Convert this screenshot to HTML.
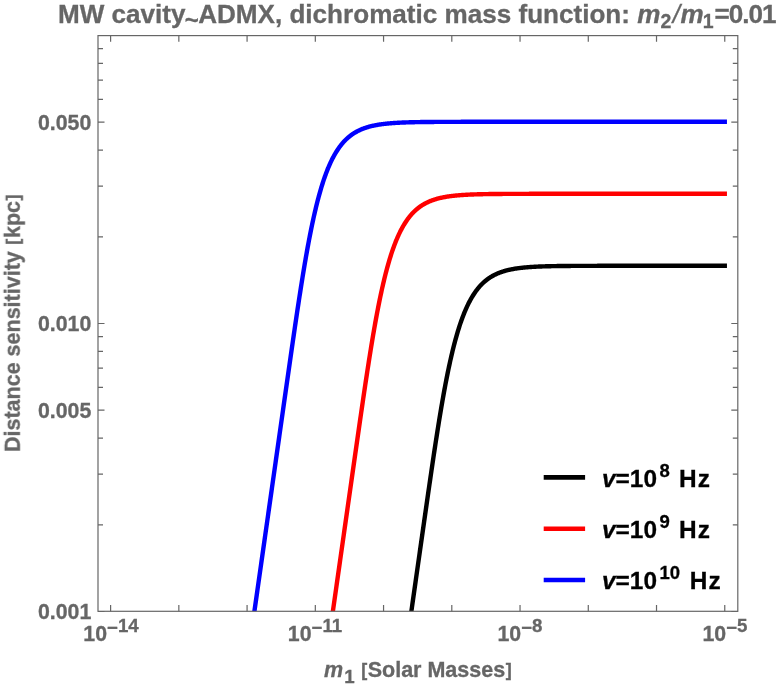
<!DOCTYPE html>
<html><head><meta charset="utf-8"><title>Distance sensitivity plot</title>
<style>
html,body{margin:0;padding:0;background:#fff;}
#c{position:relative;width:780px;height:687px;overflow:hidden;background:#fff;}
svg{position:absolute;left:0;top:0;display:block;}
.t{position:absolute;will-change:transform;-webkit-text-stroke:0.3px #666666;white-space:nowrap;line-height:1;font-family:"Liberation Sans",sans-serif;font-weight:bold;color:#666666;}
.t span{position:relative;line-height:1;}
.i{font-style:italic;}
.t span.br{font-size:18px;top:-0.7px;margin:0 0.6px;}
.lg{color:#000;-webkit-text-stroke:0.3px #000;}
</style></head><body>
<div id="c">
<svg width="780" height="687" viewBox="0 0 780 687">
<defs><clipPath id="cp"><rect x="98.0" y="35.6" width="639.8" height="575.6999999999999"/></clipPath></defs>

<g clip-path="url(#cp)" fill="none" stroke-width="4.4" stroke-linecap="square" stroke-linejoin="round">
<path d="M407.48,638.60 L407.98,635.08 L408.48,631.56 L408.98,628.05 L409.48,624.53 L409.98,621.01 L410.48,617.50 L410.98,613.98 L411.48,610.46 L411.98,606.95 L412.48,603.43 L412.98,599.91 L413.48,596.39 L413.98,592.88 L414.48,589.36 L414.98,585.84 L415.48,582.33 L415.98,578.81 L416.48,575.29 L416.98,571.78 L417.48,568.26 L417.98,564.74 L418.48,561.23 L418.98,557.71 L419.48,554.20 L419.98,550.68 L420.48,547.17 L420.98,543.65 L421.48,540.14 L421.98,536.63 L422.48,533.11 L422.98,529.60 L423.48,526.10 L423.98,522.59 L424.48,519.08 L424.98,515.58 L425.48,512.08 L425.98,508.59 L426.48,505.10 L426.98,501.61 L427.48,498.13 L427.98,494.65 L428.48,491.18 L428.98,487.72 L429.48,484.26 L429.98,480.82 L430.48,477.38 L430.98,473.95 L431.48,470.54 L431.98,467.14 L432.48,463.75 L432.98,460.38 L433.48,457.02 L433.98,453.68 L434.48,450.36 L434.98,447.06 L435.48,443.78 L435.98,440.52 L436.48,437.29 L436.98,434.07 L437.48,430.89 L437.98,427.73 L438.48,424.60 L438.98,421.49 L439.48,418.42 L439.98,415.38 L440.48,412.36 L440.98,409.39 L441.48,406.44 L441.98,403.53 L442.48,400.66 L442.98,397.82 L443.48,395.01 L443.98,392.25 L444.48,389.52 L444.98,386.83 L445.48,384.18 L445.98,381.57 L446.48,379.00 L446.98,376.47 L447.48,373.98 L447.98,371.53 L448.48,369.12 L448.98,366.75 L449.48,364.42 L449.98,362.13 L450.48,359.89 L450.98,357.68 L451.48,355.51 L451.98,353.39 L452.48,351.30 L452.98,349.26 L453.48,347.25 L453.98,345.29 L454.48,343.36 L454.98,341.47 L455.48,339.63 L455.98,337.82 L456.48,336.04 L456.98,334.31 L457.48,332.61 L457.98,330.95 L458.48,329.32 L458.98,327.73 L459.48,326.17 L459.98,324.65 L460.48,323.17 L460.98,321.71 L461.48,320.29 L461.98,318.90 L462.48,317.55 L462.98,316.22 L463.48,314.93 L463.98,313.67 L464.48,312.43 L464.98,311.23 L465.48,310.05 L465.98,308.90 L466.48,307.78 L466.98,306.69 L467.48,305.62 L467.98,304.58 L468.48,303.56 L468.98,302.57 L469.48,301.61 L469.98,300.67 L470.48,299.75 L470.98,298.85 L471.48,297.98 L471.98,297.13 L472.48,296.29 L472.98,295.49 L473.48,294.70 L473.98,293.93 L474.48,293.18 L474.98,292.45 L475.48,291.74 L475.98,291.04 L476.48,290.37 L476.98,289.71 L477.48,289.07 L477.98,288.44 L478.48,287.84 L478.98,287.24 L479.48,286.67 L479.98,286.10 L480.48,285.56 L480.98,285.02 L481.48,284.50 L481.98,284.00 L482.48,283.51 L482.98,283.03 L483.48,282.56 L483.98,282.11 L484.48,281.66 L484.98,281.23 L485.48,280.81 L485.98,280.41 L486.48,280.01 L486.98,279.62 L487.48,279.25 L487.98,278.88 L488.48,278.52 L488.98,278.18 L489.48,277.84 L489.98,277.51 L490.48,277.19 L490.98,276.88 L491.48,276.58 L491.98,276.28 L492.48,276.00 L492.98,275.72 L493.48,275.45 L493.98,275.18 L494.48,274.92 L494.98,274.67 L495.48,274.43 L495.98,274.19 L496.48,273.96 L496.98,273.74 L497.48,273.52 L497.98,273.31 L498.48,273.10 L498.98,272.90 L499.48,272.71 L499.98,272.52 L500.48,272.33 L500.98,272.15 L501.48,271.98 L501.98,271.81 L502.48,271.64 L502.98,271.48 L503.48,271.33 L503.98,271.17 L504.48,271.03 L504.98,270.88 L505.48,270.74 L505.98,270.61 L506.48,270.47 L506.98,270.34 L507.48,270.22 L507.98,270.10 L508.48,269.98 L508.98,269.86 L509.48,269.75 L509.98,269.64 L510.48,269.54 L510.98,269.43 L511.48,269.33 L511.98,269.23 L512.48,269.14 L512.98,269.05 L513.48,268.96 L513.98,268.87 L514.48,268.79 L514.98,268.70 L515.48,268.62 L515.98,268.54 L516.48,268.47 L516.98,268.40 L517.48,268.32 L517.98,268.25 L518.48,268.19 L518.98,268.12 L519.48,268.06 L519.98,267.99 L520.48,267.93 L520.98,267.87 L521.48,267.82 L521.98,267.76 L522.48,267.71 L522.98,267.65 L523.48,267.60 L523.98,267.55 L524.48,267.50 L524.98,267.46 L525.48,267.41 L525.98,267.37 L526.48,267.32 L526.98,267.28 L527.48,267.24 L527.98,267.20 L528.48,267.16 L528.98,267.12 L529.48,267.09 L529.98,267.05 L530.48,267.02 L530.98,266.98 L531.48,266.95 L531.98,266.92 L532.48,266.89 L532.98,266.86 L533.48,266.83 L533.98,266.80 L534.48,266.77 L534.98,266.74 L535.48,266.72 L535.98,266.69 L536.48,266.67 L536.98,266.64 L537.48,266.62 L537.98,266.60 L538.48,266.57 L538.98,266.55 L539.48,266.53 L539.98,266.51 L540.48,266.49 L540.98,266.47 L541.48,266.45 L541.98,266.44 L542.48,266.42 L542.98,266.40 L543.48,266.38 L543.98,266.37 L544.48,266.35 L544.98,266.34 L545.48,266.32 L545.98,266.31 L546.48,266.29 L546.98,266.28 L547.48,266.27 L547.98,266.25 L548.48,266.24 L548.98,266.23 L549.48,266.22 L549.98,266.20 L550.48,266.19 L550.98,266.18 L551.48,266.17 L551.98,266.16 L552.48,266.15 L552.98,266.14 L553.48,266.13 L553.98,266.12 L554.48,266.11 L554.98,266.10 L555.48,266.10 L555.98,266.09 L556.48,266.08 L556.98,266.07 L557.48,266.06 L557.98,266.06 L558.48,266.05 L558.98,266.04 L559.48,266.04 L559.98,266.03 L560.48,266.02 L560.98,266.02 L561.48,266.01 L561.98,266.00 L562.48,266.00 L562.98,265.99 L563.48,265.99 L563.98,265.98 L564.48,265.98 L564.98,265.97 L565.48,265.97 L565.98,265.96 L566.48,265.96 L566.98,265.95 L567.48,265.95 L567.98,265.94 L568.48,265.94 L568.98,265.94 L569.48,265.93 L569.98,265.93 L570.48,265.93 L570.98,265.92 L571.48,265.92 L571.98,265.91 L572.48,265.91 L572.98,265.91 L573.48,265.91 L573.98,265.90 L574.48,265.90 L574.98,265.90 L575.48,265.89 L575.98,265.89 L576.48,265.89 L576.98,265.89 L577.48,265.88 L577.98,265.88 L578.48,265.88 L578.98,265.88 L579.48,265.87 L579.98,265.87 L580.48,265.87 L580.98,265.87 L581.48,265.87 L581.98,265.86 L582.48,265.86 L582.98,265.86 L583.48,265.86 L583.98,265.86 L584.48,265.86 L584.98,265.85 L585.48,265.85 L585.98,265.85 L586.48,265.85 L586.98,265.85 L587.48,265.85 L587.98,265.84 L588.48,265.84 L588.98,265.84 L589.48,265.84 L589.98,265.84 L590.48,265.84 L590.98,265.84 L591.48,265.84 L591.98,265.84 L592.48,265.83 L592.98,265.83 L593.48,265.83 L593.98,265.83 L594.48,265.83 L594.98,265.83 L595.48,265.83 L595.98,265.83 L596.48,265.83 L596.98,265.83 L597.48,265.82 L597.98,265.82 L598.48,265.82 L598.98,265.82 L599.48,265.82 L599.98,265.82 L600.48,265.82 L600.98,265.82 L601.48,265.82 L601.98,265.82 L602.48,265.82 L602.98,265.82 L603.48,265.82 L603.98,265.82 L604.48,265.82 L604.98,265.82 L605.48,265.81 L605.98,265.81 L606.48,265.81 L606.98,265.81 L607.48,265.81 L607.98,265.81 L608.48,265.81 L608.98,265.81 L609.48,265.81 L609.98,265.81 L610.48,265.81 L610.98,265.81 L611.48,265.81 L611.98,265.81 L612.48,265.81 L612.98,265.81 L613.48,265.81 L613.98,265.81 L614.48,265.81 L614.98,265.81 L615.48,265.81 L615.98,265.81 L616.48,265.81 L616.98,265.81 L617.48,265.81 L617.98,265.81 L618.48,265.81 L618.98,265.81 L619.48,265.80 L619.98,265.80 L620.48,265.80 L620.98,265.80 L621.48,265.80 L621.98,265.80 L622.48,265.80 L622.98,265.80 L623.48,265.80 L623.98,265.80 L624.48,265.80 L624.98,265.80 L625.48,265.80 L625.98,265.80 L626.48,265.80 L626.98,265.80 L627.48,265.80 L627.98,265.80 L628.48,265.80 L628.98,265.80 L629.48,265.80 L629.98,265.80 L630.48,265.80 L630.98,265.80 L631.48,265.80 L631.98,265.80 L632.48,265.80 L632.98,265.80 L633.48,265.80 L633.98,265.80 L634.48,265.80 L634.98,265.80 L635.48,265.80 L635.98,265.80 L636.48,265.80 L636.98,265.80 L637.48,265.80 L637.98,265.80 L638.48,265.80 L638.98,265.80 L639.48,265.80 L639.98,265.80 L640.48,265.80 L640.98,265.80 L641.48,265.80 L641.98,265.80 L642.48,265.80 L642.98,265.80 L643.48,265.80 L643.98,265.80 L644.48,265.80 L644.98,265.80 L645.48,265.80 L645.98,265.80 L646.48,265.80 L646.98,265.80 L647.48,265.80 L647.98,265.80 L648.48,265.80 L648.98,265.80 L649.48,265.80 L649.98,265.80 L650.48,265.80 L650.98,265.80 L651.48,265.80 L651.98,265.80 L652.48,265.80 L652.98,265.80 L653.48,265.80 L653.98,265.80 L654.48,265.80 L654.98,265.80 L655.48,265.80 L655.98,265.80 L656.48,265.80 L656.98,265.80 L657.48,265.80 L657.98,265.80 L658.48,265.80 L658.98,265.80 L659.48,265.80 L659.98,265.80 L660.48,265.80 L660.98,265.80 L661.48,265.80 L661.98,265.80 L662.48,265.80 L662.98,265.80 L663.48,265.80 L663.98,265.80 L664.48,265.80 L664.98,265.80 L665.48,265.80 L665.98,265.80 L666.48,265.80 L666.98,265.80 L667.48,265.80 L667.98,265.80 L668.48,265.80 L668.98,265.80 L669.48,265.80 L669.98,265.80 L670.48,265.80 L670.98,265.80 L671.48,265.80 L671.98,265.80 L672.48,265.80 L672.98,265.80 L673.48,265.80 L673.98,265.80 L674.48,265.80 L674.98,265.80 L675.48,265.80 L675.98,265.80 L676.48,265.80 L676.98,265.80 L677.48,265.80 L677.98,265.80 L678.48,265.80 L678.98,265.80 L679.48,265.80 L679.98,265.80 L680.48,265.80 L680.98,265.80 L681.48,265.80 L681.98,265.80 L682.48,265.80 L682.98,265.80 L683.48,265.80 L683.98,265.80 L684.48,265.80 L684.98,265.80 L685.48,265.80 L685.98,265.80 L686.48,265.80 L686.98,265.80 L687.48,265.80 L687.98,265.80 L688.48,265.80 L688.98,265.80 L689.48,265.80 L689.98,265.80 L690.48,265.80 L690.98,265.80 L691.48,265.80 L691.98,265.80 L692.48,265.80 L692.98,265.80 L693.48,265.80 L693.98,265.80 L694.48,265.80 L694.98,265.80 L695.48,265.80 L695.98,265.80 L696.48,265.80 L696.98,265.80 L697.48,265.80 L697.98,265.80 L698.48,265.80 L698.98,265.80 L699.48,265.80 L699.98,265.80 L700.48,265.80 L700.98,265.80 L701.48,265.80 L701.98,265.80 L702.48,265.80 L702.98,265.80 L703.48,265.80 L703.98,265.80 L704.48,265.80 L704.98,265.80 L705.48,265.80 L705.98,265.80 L706.48,265.80 L706.98,265.80 L707.48,265.80 L707.98,265.80 L708.48,265.80 L708.98,265.80 L709.48,265.80 L709.98,265.80 L710.48,265.80 L710.98,265.80 L711.48,265.80 L711.98,265.80 L712.48,265.80 L712.98,265.80 L713.48,265.80 L713.98,265.80 L714.48,265.80 L714.98,265.80 L715.48,265.80 L715.98,265.80 L716.48,265.80 L716.98,265.80 L717.48,265.80 L717.98,265.80 L718.48,265.80 L718.98,265.80 L719.48,265.80 L719.98,265.80 L720.48,265.80 L720.98,265.80 L721.48,265.80 L721.98,265.80 L722.48,265.80 L722.98,265.80 L723.48,265.80 L723.98,265.80 L724.48,265.80 L724.76,265.80" stroke="#000000"/>
<path d="M328.74,640.46 L329.24,636.94 L329.74,633.42 L330.24,629.90 L330.74,626.39 L331.24,622.87 L331.74,619.35 L332.24,615.84 L332.74,612.32 L333.24,608.80 L333.74,605.29 L334.24,601.77 L334.74,598.25 L335.24,594.73 L335.74,591.22 L336.24,587.70 L336.74,584.18 L337.24,580.67 L337.74,577.15 L338.24,573.63 L338.74,570.12 L339.24,566.60 L339.74,563.08 L340.24,559.56 L340.74,556.05 L341.24,552.53 L341.74,549.01 L342.24,545.50 L342.74,541.98 L343.24,538.46 L343.74,534.95 L344.24,531.43 L344.74,527.91 L345.24,524.39 L345.74,520.88 L346.24,517.36 L346.74,513.84 L347.24,510.33 L347.74,506.81 L348.24,503.29 L348.74,499.78 L349.24,496.26 L349.74,492.74 L350.24,489.23 L350.74,485.71 L351.24,482.20 L351.74,478.68 L352.24,475.17 L352.74,471.65 L353.24,468.14 L353.74,464.63 L354.24,461.11 L354.74,457.60 L355.24,454.10 L355.74,450.59 L356.24,447.08 L356.74,443.58 L357.24,440.08 L357.74,436.59 L358.24,433.10 L358.74,429.61 L359.24,426.13 L359.74,422.65 L360.24,419.18 L360.74,415.72 L361.24,412.26 L361.74,408.82 L362.24,405.38 L362.74,401.95 L363.24,398.54 L363.74,395.14 L364.24,391.75 L364.74,388.38 L365.24,385.02 L365.74,381.68 L366.24,378.36 L366.74,375.06 L367.24,371.78 L367.74,368.52 L368.24,365.29 L368.74,362.07 L369.24,358.89 L369.74,355.73 L370.24,352.60 L370.74,349.49 L371.24,346.42 L371.74,343.38 L372.24,340.36 L372.74,337.39 L373.24,334.44 L373.74,331.53 L374.24,328.66 L374.74,325.82 L375.24,323.01 L375.74,320.25 L376.24,317.52 L376.74,314.83 L377.24,312.18 L377.74,309.57 L378.24,307.00 L378.74,304.47 L379.24,301.98 L379.74,299.53 L380.24,297.12 L380.74,294.75 L381.24,292.42 L381.74,290.13 L382.24,287.89 L382.74,285.68 L383.24,283.51 L383.74,281.39 L384.24,279.30 L384.74,277.26 L385.24,275.25 L385.74,273.29 L386.24,271.36 L386.74,269.47 L387.24,267.63 L387.74,265.82 L388.24,264.04 L388.74,262.31 L389.24,260.61 L389.74,258.95 L390.24,257.32 L390.74,255.73 L391.24,254.17 L391.74,252.65 L392.24,251.17 L392.74,249.71 L393.24,248.29 L393.74,246.90 L394.24,245.55 L394.74,244.22 L395.24,242.93 L395.74,241.67 L396.24,240.43 L396.74,239.23 L397.24,238.05 L397.74,236.90 L398.24,235.78 L398.74,234.69 L399.24,233.62 L399.74,232.58 L400.24,231.56 L400.74,230.57 L401.24,229.61 L401.74,228.67 L402.24,227.75 L402.74,226.85 L403.24,225.98 L403.74,225.13 L404.24,224.29 L404.74,223.49 L405.24,222.70 L405.74,221.93 L406.24,221.18 L406.74,220.45 L407.24,219.74 L407.74,219.04 L408.24,218.37 L408.74,217.71 L409.24,217.07 L409.74,216.44 L410.24,215.84 L410.74,215.24 L411.24,214.67 L411.74,214.10 L412.24,213.56 L412.74,213.02 L413.24,212.50 L413.74,212.00 L414.24,211.51 L414.74,211.03 L415.24,210.56 L415.74,210.11 L416.24,209.66 L416.74,209.23 L417.24,208.81 L417.74,208.41 L418.24,208.01 L418.74,207.62 L419.24,207.25 L419.74,206.88 L420.24,206.52 L420.74,206.18 L421.24,205.84 L421.74,205.51 L422.24,205.19 L422.74,204.88 L423.24,204.58 L423.74,204.28 L424.24,204.00 L424.74,203.72 L425.24,203.45 L425.74,203.18 L426.24,202.92 L426.74,202.67 L427.24,202.43 L427.74,202.19 L428.24,201.96 L428.74,201.74 L429.24,201.52 L429.74,201.31 L430.24,201.10 L430.74,200.90 L431.24,200.71 L431.74,200.52 L432.24,200.33 L432.74,200.15 L433.24,199.98 L433.74,199.81 L434.24,199.64 L434.74,199.48 L435.24,199.33 L435.74,199.17 L436.24,199.03 L436.74,198.88 L437.24,198.74 L437.74,198.61 L438.24,198.47 L438.74,198.34 L439.24,198.22 L439.74,198.10 L440.24,197.98 L440.74,197.86 L441.24,197.75 L441.74,197.64 L442.24,197.54 L442.74,197.43 L443.24,197.33 L443.74,197.23 L444.24,197.14 L444.74,197.05 L445.24,196.96 L445.74,196.87 L446.24,196.79 L446.74,196.70 L447.24,196.62 L447.74,196.54 L448.24,196.47 L448.74,196.40 L449.24,196.32 L449.74,196.25 L450.24,196.19 L450.74,196.12 L451.24,196.06 L451.74,195.99 L452.24,195.93 L452.74,195.87 L453.24,195.82 L453.74,195.76 L454.24,195.71 L454.74,195.65 L455.24,195.60 L455.74,195.55 L456.24,195.50 L456.74,195.46 L457.24,195.41 L457.74,195.37 L458.24,195.32 L458.74,195.28 L459.24,195.24 L459.74,195.20 L460.24,195.16 L460.74,195.12 L461.24,195.09 L461.74,195.05 L462.24,195.02 L462.74,194.98 L463.24,194.95 L463.74,194.92 L464.24,194.89 L464.74,194.86 L465.24,194.83 L465.74,194.80 L466.24,194.77 L466.74,194.74 L467.24,194.72 L467.74,194.69 L468.24,194.67 L468.74,194.64 L469.24,194.62 L469.74,194.60 L470.24,194.57 L470.74,194.55 L471.24,194.53 L471.74,194.51 L472.24,194.49 L472.74,194.47 L473.24,194.45 L473.74,194.44 L474.24,194.42 L474.74,194.40 L475.24,194.38 L475.74,194.37 L476.24,194.35 L476.74,194.34 L477.24,194.32 L477.74,194.31 L478.24,194.29 L478.74,194.28 L479.24,194.27 L479.74,194.25 L480.24,194.24 L480.74,194.23 L481.24,194.22 L481.74,194.20 L482.24,194.19 L482.74,194.18 L483.24,194.17 L483.74,194.16 L484.24,194.15 L484.74,194.14 L485.24,194.13 L485.74,194.12 L486.24,194.11 L486.74,194.10 L487.24,194.10 L487.74,194.09 L488.24,194.08 L488.74,194.07 L489.24,194.06 L489.74,194.06 L490.24,194.05 L490.74,194.04 L491.24,194.04 L491.74,194.03 L492.24,194.02 L492.74,194.02 L493.24,194.01 L493.74,194.00 L494.24,194.00 L494.74,193.99 L495.24,193.99 L495.74,193.98 L496.24,193.98 L496.74,193.97 L497.24,193.97 L497.74,193.96 L498.24,193.96 L498.74,193.95 L499.24,193.95 L499.74,193.94 L500.24,193.94 L500.74,193.94 L501.24,193.93 L501.74,193.93 L502.24,193.93 L502.74,193.92 L503.24,193.92 L503.74,193.91 L504.24,193.91 L504.74,193.91 L505.24,193.91 L505.74,193.90 L506.24,193.90 L506.74,193.90 L507.24,193.89 L507.74,193.89 L508.24,193.89 L508.74,193.89 L509.24,193.88 L509.74,193.88 L510.24,193.88 L510.74,193.88 L511.24,193.87 L511.74,193.87 L512.24,193.87 L512.74,193.87 L513.24,193.87 L513.74,193.86 L514.24,193.86 L514.74,193.86 L515.24,193.86 L515.74,193.86 L516.24,193.86 L516.74,193.85 L517.24,193.85 L517.74,193.85 L518.24,193.85 L518.74,193.85 L519.24,193.85 L519.74,193.84 L520.24,193.84 L520.74,193.84 L521.24,193.84 L521.74,193.84 L522.24,193.84 L522.74,193.84 L523.24,193.84 L523.74,193.84 L524.24,193.83 L524.74,193.83 L525.24,193.83 L525.74,193.83 L526.24,193.83 L526.74,193.83 L527.24,193.83 L527.74,193.83 L528.24,193.83 L528.74,193.83 L529.24,193.82 L529.74,193.82 L530.24,193.82 L530.74,193.82 L531.24,193.82 L531.74,193.82 L532.24,193.82 L532.74,193.82 L533.24,193.82 L533.74,193.82 L534.24,193.82 L534.74,193.82 L535.24,193.82 L535.74,193.82 L536.24,193.82 L536.74,193.82 L537.24,193.81 L537.74,193.81 L538.24,193.81 L538.74,193.81 L539.24,193.81 L539.74,193.81 L540.24,193.81 L540.74,193.81 L541.24,193.81 L541.74,193.81 L542.24,193.81 L542.74,193.81 L543.24,193.81 L543.74,193.81 L544.24,193.81 L544.74,193.81 L545.24,193.81 L545.74,193.81 L546.24,193.81 L546.74,193.81 L547.24,193.81 L547.74,193.81 L548.24,193.81 L548.74,193.81 L549.24,193.81 L549.74,193.81 L550.24,193.81 L550.74,193.81 L551.24,193.80 L551.74,193.80 L552.24,193.80 L552.74,193.80 L553.24,193.80 L553.74,193.80 L554.24,193.80 L554.74,193.80 L555.24,193.80 L555.74,193.80 L556.24,193.80 L556.74,193.80 L557.24,193.80 L557.74,193.80 L558.24,193.80 L558.74,193.80 L559.24,193.80 L559.74,193.80 L560.24,193.80 L560.74,193.80 L561.24,193.80 L561.74,193.80 L562.24,193.80 L562.74,193.80 L563.24,193.80 L563.74,193.80 L564.24,193.80 L564.74,193.80 L565.24,193.80 L565.74,193.80 L566.24,193.80 L566.74,193.80 L567.24,193.80 L567.74,193.80 L568.24,193.80 L568.74,193.80 L569.24,193.80 L569.74,193.80 L570.24,193.80 L570.74,193.80 L571.24,193.80 L571.74,193.80 L572.24,193.80 L572.74,193.80 L573.24,193.80 L573.74,193.80 L574.24,193.80 L574.74,193.80 L575.24,193.80 L575.74,193.80 L576.24,193.80 L576.74,193.80 L577.24,193.80 L577.74,193.80 L578.24,193.80 L578.74,193.80 L579.24,193.80 L579.74,193.80 L580.24,193.80 L580.74,193.80 L581.24,193.80 L581.74,193.80 L582.24,193.80 L582.74,193.80 L583.24,193.80 L583.74,193.80 L584.24,193.80 L584.74,193.80 L585.24,193.80 L585.74,193.80 L586.24,193.80 L586.74,193.80 L587.24,193.80 L587.74,193.80 L588.24,193.80 L588.74,193.80 L589.24,193.80 L589.74,193.80 L590.24,193.80 L590.74,193.80 L591.24,193.80 L591.74,193.80 L592.24,193.80 L592.74,193.80 L593.24,193.80 L593.74,193.80 L594.24,193.80 L594.74,193.80 L595.24,193.80 L595.74,193.80 L596.24,193.80 L596.74,193.80 L597.24,193.80 L597.74,193.80 L598.24,193.80 L598.74,193.80 L599.24,193.80 L599.74,193.80 L600.24,193.80 L600.74,193.80 L601.24,193.80 L601.74,193.80 L602.24,193.80 L602.74,193.80 L603.24,193.80 L603.74,193.80 L604.24,193.80 L604.74,193.80 L605.24,193.80 L605.74,193.80 L606.24,193.80 L606.74,193.80 L607.24,193.80 L607.74,193.80 L608.24,193.80 L608.74,193.80 L609.24,193.80 L609.74,193.80 L610.24,193.80 L610.74,193.80 L611.24,193.80 L611.74,193.80 L612.24,193.80 L612.74,193.80 L613.24,193.80 L613.74,193.80 L614.24,193.80 L614.74,193.80 L615.24,193.80 L615.74,193.80 L616.24,193.80 L616.74,193.80 L617.24,193.80 L617.74,193.80 L618.24,193.80 L618.74,193.80 L619.24,193.80 L619.74,193.80 L620.24,193.80 L620.74,193.80 L621.24,193.80 L621.74,193.80 L622.24,193.80 L622.74,193.80 L623.24,193.80 L623.74,193.80 L624.24,193.80 L624.74,193.80 L625.24,193.80 L625.74,193.80 L626.24,193.80 L626.74,193.80 L627.24,193.80 L627.74,193.80 L628.24,193.80 L628.74,193.80 L629.24,193.80 L629.74,193.80 L630.24,193.80 L630.74,193.80 L631.24,193.80 L631.74,193.80 L632.24,193.80 L632.74,193.80 L633.24,193.80 L633.74,193.80 L634.24,193.80 L634.74,193.80 L635.24,193.80 L635.74,193.80 L636.24,193.80 L636.74,193.80 L637.24,193.80 L637.74,193.80 L638.24,193.80 L638.74,193.80 L639.24,193.80 L639.74,193.80 L640.24,193.80 L640.74,193.80 L641.24,193.80 L641.74,193.80 L642.24,193.80 L642.74,193.80 L643.24,193.80 L643.74,193.80 L644.24,193.80 L644.74,193.80 L645.24,193.80 L645.74,193.80 L646.24,193.80 L646.74,193.80 L647.24,193.80 L647.74,193.80 L648.24,193.80 L648.74,193.80 L649.24,193.80 L649.74,193.80 L650.24,193.80 L650.74,193.80 L651.24,193.80 L651.74,193.80 L652.24,193.80 L652.74,193.80 L653.24,193.80 L653.74,193.80 L654.24,193.80 L654.74,193.80 L655.24,193.80 L655.74,193.80 L656.24,193.80 L656.74,193.80 L657.24,193.80 L657.74,193.80 L658.24,193.80 L658.74,193.80 L659.24,193.80 L659.74,193.80 L660.24,193.80 L660.74,193.80 L661.24,193.80 L661.74,193.80 L662.24,193.80 L662.74,193.80 L663.24,193.80 L663.74,193.80 L664.24,193.80 L664.74,193.80 L665.24,193.80 L665.74,193.80 L666.24,193.80 L666.74,193.80 L667.24,193.80 L667.74,193.80 L668.24,193.80 L668.74,193.80 L669.24,193.80 L669.74,193.80 L670.24,193.80 L670.74,193.80 L671.24,193.80 L671.74,193.80 L672.24,193.80 L672.74,193.80 L673.24,193.80 L673.74,193.80 L674.24,193.80 L674.74,193.80 L675.24,193.80 L675.74,193.80 L676.24,193.80 L676.74,193.80 L677.24,193.80 L677.74,193.80 L678.24,193.80 L678.74,193.80 L679.24,193.80 L679.74,193.80 L680.24,193.80 L680.74,193.80 L681.24,193.80 L681.74,193.80 L682.24,193.80 L682.74,193.80 L683.24,193.80 L683.74,193.80 L684.24,193.80 L684.74,193.80 L685.24,193.80 L685.74,193.80 L686.24,193.80 L686.74,193.80 L687.24,193.80 L687.74,193.80 L688.24,193.80 L688.74,193.80 L689.24,193.80 L689.74,193.80 L690.24,193.80 L690.74,193.80 L691.24,193.80 L691.74,193.80 L692.24,193.80 L692.74,193.80 L693.24,193.80 L693.74,193.80 L694.24,193.80 L694.74,193.80 L695.24,193.80 L695.74,193.80 L696.24,193.80 L696.74,193.80 L697.24,193.80 L697.74,193.80 L698.24,193.80 L698.74,193.80 L699.24,193.80 L699.74,193.80 L700.24,193.80 L700.74,193.80 L701.24,193.80 L701.74,193.80 L702.24,193.80 L702.74,193.80 L703.24,193.80 L703.74,193.80 L704.24,193.80 L704.74,193.80 L705.24,193.80 L705.74,193.80 L706.24,193.80 L706.74,193.80 L707.24,193.80 L707.74,193.80 L708.24,193.80 L708.74,193.80 L709.24,193.80 L709.74,193.80 L710.24,193.80 L710.74,193.80 L711.24,193.80 L711.74,193.80 L712.24,193.80 L712.74,193.80 L713.24,193.80 L713.74,193.80 L714.24,193.80 L714.74,193.80 L715.24,193.80 L715.74,193.80 L716.24,193.80 L716.74,193.80 L717.24,193.80 L717.74,193.80 L718.24,193.80 L718.74,193.80 L719.24,193.80 L719.74,193.80 L720.24,193.80 L720.74,193.80 L721.24,193.80 L721.74,193.80 L722.24,193.80 L722.74,193.80 L723.24,193.80 L723.74,193.80 L724.24,193.80 L724.74,193.80 L724.76,193.80" stroke="#ff0000"/>
<path d="M250.50,638.80 L251.00,635.28 L251.50,631.76 L252.00,628.24 L252.50,624.73 L253.00,621.21 L253.50,617.69 L254.00,614.18 L254.50,610.66 L255.00,607.14 L255.50,603.63 L256.00,600.11 L256.50,596.59 L257.00,593.07 L257.50,589.56 L258.00,586.04 L258.50,582.52 L259.00,579.01 L259.50,575.49 L260.00,571.97 L260.50,568.46 L261.00,564.94 L261.50,561.42 L262.00,557.90 L262.50,554.39 L263.00,550.87 L263.50,547.35 L264.00,543.84 L264.50,540.32 L265.00,536.80 L265.50,533.29 L266.00,529.77 L266.50,526.25 L267.00,522.73 L267.50,519.22 L268.00,515.70 L268.50,512.18 L269.00,508.67 L269.50,505.15 L270.00,501.63 L270.50,498.12 L271.00,494.60 L271.50,491.08 L272.00,487.56 L272.50,484.05 L273.00,480.53 L273.50,477.01 L274.00,473.50 L274.50,469.98 L275.00,466.46 L275.50,462.95 L276.00,459.43 L276.50,455.91 L277.00,452.39 L277.50,448.88 L278.00,445.36 L278.50,441.84 L279.00,438.33 L279.50,434.81 L280.00,431.29 L280.50,427.78 L281.00,424.26 L281.50,420.74 L282.00,417.23 L282.50,413.71 L283.00,410.20 L283.50,406.68 L284.00,403.17 L284.50,399.65 L285.00,396.14 L285.50,392.63 L286.00,389.11 L286.50,385.60 L287.00,382.10 L287.50,378.59 L288.00,375.08 L288.50,371.58 L289.00,368.08 L289.50,364.59 L290.00,361.10 L290.50,357.61 L291.00,354.13 L291.50,350.65 L292.00,347.18 L292.50,343.72 L293.00,340.26 L293.50,336.82 L294.00,333.38 L294.50,329.95 L295.00,326.54 L295.50,323.14 L296.00,319.75 L296.50,316.38 L297.00,313.02 L297.50,309.68 L298.00,306.36 L298.50,303.06 L299.00,299.78 L299.50,296.52 L300.00,293.29 L300.50,290.07 L301.00,286.89 L301.50,283.73 L302.00,280.60 L302.50,277.49 L303.00,274.42 L303.50,271.38 L304.00,268.36 L304.50,265.39 L305.00,262.44 L305.50,259.53 L306.00,256.66 L306.50,253.82 L307.00,251.01 L307.50,248.25 L308.00,245.52 L308.50,242.83 L309.00,240.18 L309.50,237.57 L310.00,235.00 L310.50,232.47 L311.00,229.98 L311.50,227.53 L312.00,225.12 L312.50,222.75 L313.00,220.42 L313.50,218.13 L314.00,215.89 L314.50,213.68 L315.00,211.51 L315.50,209.39 L316.00,207.30 L316.50,205.26 L317.00,203.25 L317.50,201.29 L318.00,199.36 L318.50,197.47 L319.00,195.63 L319.50,193.82 L320.00,192.04 L320.50,190.31 L321.00,188.61 L321.50,186.95 L322.00,185.32 L322.50,183.73 L323.00,182.17 L323.50,180.65 L324.00,179.17 L324.50,177.71 L325.00,176.29 L325.50,174.90 L326.00,173.55 L326.50,172.22 L327.00,170.93 L327.50,169.67 L328.00,168.43 L328.50,167.23 L329.00,166.05 L329.50,164.90 L330.00,163.78 L330.50,162.69 L331.00,161.62 L331.50,160.58 L332.00,159.56 L332.50,158.57 L333.00,157.61 L333.50,156.67 L334.00,155.75 L334.50,154.85 L335.00,153.98 L335.50,153.13 L336.00,152.29 L336.50,151.49 L337.00,150.70 L337.50,149.93 L338.00,149.18 L338.50,148.45 L339.00,147.74 L339.50,147.04 L340.00,146.37 L340.50,145.71 L341.00,145.07 L341.50,144.44 L342.00,143.84 L342.50,143.24 L343.00,142.67 L343.50,142.10 L344.00,141.56 L344.50,141.02 L345.00,140.50 L345.50,140.00 L346.00,139.51 L346.50,139.03 L347.00,138.56 L347.50,138.11 L348.00,137.66 L348.50,137.23 L349.00,136.81 L349.50,136.41 L350.00,136.01 L350.50,135.62 L351.00,135.25 L351.50,134.88 L352.00,134.52 L352.50,134.18 L353.00,133.84 L353.50,133.51 L354.00,133.19 L354.50,132.88 L355.00,132.58 L355.50,132.28 L356.00,132.00 L356.50,131.72 L357.00,131.45 L357.50,131.18 L358.00,130.92 L358.50,130.67 L359.00,130.43 L359.50,130.19 L360.00,129.96 L360.50,129.74 L361.00,129.52 L361.50,129.31 L362.00,129.10 L362.50,128.90 L363.00,128.71 L363.50,128.52 L364.00,128.33 L364.50,128.15 L365.00,127.98 L365.50,127.81 L366.00,127.64 L366.50,127.48 L367.00,127.33 L367.50,127.17 L368.00,127.03 L368.50,126.88 L369.00,126.74 L369.50,126.61 L370.00,126.47 L370.50,126.34 L371.00,126.22 L371.50,126.10 L372.00,125.98 L372.50,125.86 L373.00,125.75 L373.50,125.64 L374.00,125.54 L374.50,125.43 L375.00,125.33 L375.50,125.23 L376.00,125.14 L376.50,125.05 L377.00,124.96 L377.50,124.87 L378.00,124.79 L378.50,124.70 L379.00,124.62 L379.50,124.54 L380.00,124.47 L380.50,124.40 L381.00,124.32 L381.50,124.25 L382.00,124.19 L382.50,124.12 L383.00,124.06 L383.50,123.99 L384.00,123.93 L384.50,123.87 L385.00,123.82 L385.50,123.76 L386.00,123.71 L386.50,123.65 L387.00,123.60 L387.50,123.55 L388.00,123.50 L388.50,123.46 L389.00,123.41 L389.50,123.37 L390.00,123.32 L390.50,123.28 L391.00,123.24 L391.50,123.20 L392.00,123.16 L392.50,123.12 L393.00,123.09 L393.50,123.05 L394.00,123.02 L394.50,122.98 L395.00,122.95 L395.50,122.92 L396.00,122.89 L396.50,122.86 L397.00,122.83 L397.50,122.80 L398.00,122.77 L398.50,122.74 L399.00,122.72 L399.50,122.69 L400.00,122.67 L400.50,122.64 L401.00,122.62 L401.50,122.60 L402.00,122.57 L402.50,122.55 L403.00,122.53 L403.50,122.51 L404.00,122.49 L404.50,122.47 L405.00,122.45 L405.50,122.44 L406.00,122.42 L406.50,122.40 L407.00,122.38 L407.50,122.37 L408.00,122.35 L408.50,122.34 L409.00,122.32 L409.50,122.31 L410.00,122.29 L410.50,122.28 L411.00,122.27 L411.50,122.25 L412.00,122.24 L412.50,122.23 L413.00,122.22 L413.50,122.20 L414.00,122.19 L414.50,122.18 L415.00,122.17 L415.50,122.16 L416.00,122.15 L416.50,122.14 L417.00,122.13 L417.50,122.12 L418.00,122.11 L418.50,122.10 L419.00,122.10 L419.50,122.09 L420.00,122.08 L420.50,122.07 L421.00,122.06 L421.50,122.06 L422.00,122.05 L422.50,122.04 L423.00,122.04 L423.50,122.03 L424.00,122.02 L424.50,122.02 L425.00,122.01 L425.50,122.00 L426.00,122.00 L426.50,121.99 L427.00,121.99 L427.50,121.98 L428.00,121.98 L428.50,121.97 L429.00,121.97 L429.50,121.96 L430.00,121.96 L430.50,121.95 L431.00,121.95 L431.50,121.94 L432.00,121.94 L432.50,121.94 L433.00,121.93 L433.50,121.93 L434.00,121.93 L434.50,121.92 L435.00,121.92 L435.50,121.91 L436.00,121.91 L436.50,121.91 L437.00,121.91 L437.50,121.90 L438.00,121.90 L438.50,121.90 L439.00,121.89 L439.50,121.89 L440.00,121.89 L440.50,121.89 L441.00,121.88 L441.50,121.88 L442.00,121.88 L442.50,121.88 L443.00,121.87 L443.50,121.87 L444.00,121.87 L444.50,121.87 L445.00,121.87 L445.50,121.86 L446.00,121.86 L446.50,121.86 L447.00,121.86 L447.50,121.86 L448.00,121.86 L448.50,121.85 L449.00,121.85 L449.50,121.85 L450.00,121.85 L450.50,121.85 L451.00,121.85 L451.50,121.84 L452.00,121.84 L452.50,121.84 L453.00,121.84 L453.50,121.84 L454.00,121.84 L454.50,121.84 L455.00,121.84 L455.50,121.84 L456.00,121.83 L456.50,121.83 L457.00,121.83 L457.50,121.83 L458.00,121.83 L458.50,121.83 L459.00,121.83 L459.50,121.83 L460.00,121.83 L460.50,121.83 L461.00,121.82 L461.50,121.82 L462.00,121.82 L462.50,121.82 L463.00,121.82 L463.50,121.82 L464.00,121.82 L464.50,121.82 L465.00,121.82 L465.50,121.82 L466.00,121.82 L466.50,121.82 L467.00,121.82 L467.50,121.82 L468.00,121.82 L468.50,121.82 L469.00,121.81 L469.50,121.81 L470.00,121.81 L470.50,121.81 L471.00,121.81 L471.50,121.81 L472.00,121.81 L472.50,121.81 L473.00,121.81 L473.50,121.81 L474.00,121.81 L474.50,121.81 L475.00,121.81 L475.50,121.81 L476.00,121.81 L476.50,121.81 L477.00,121.81 L477.50,121.81 L478.00,121.81 L478.50,121.81 L479.00,121.81 L479.50,121.81 L480.00,121.81 L480.50,121.81 L481.00,121.81 L481.50,121.81 L482.00,121.81 L482.50,121.81 L483.00,121.80 L483.50,121.80 L484.00,121.80 L484.50,121.80 L485.00,121.80 L485.50,121.80 L486.00,121.80 L486.50,121.80 L487.00,121.80 L487.50,121.80 L488.00,121.80 L488.50,121.80 L489.00,121.80 L489.50,121.80 L490.00,121.80 L490.50,121.80 L491.00,121.80 L491.50,121.80 L492.00,121.80 L492.50,121.80 L493.00,121.80 L493.50,121.80 L494.00,121.80 L494.50,121.80 L495.00,121.80 L495.50,121.80 L496.00,121.80 L496.50,121.80 L497.00,121.80 L497.50,121.80 L498.00,121.80 L498.50,121.80 L499.00,121.80 L499.50,121.80 L500.00,121.80 L500.50,121.80 L501.00,121.80 L501.50,121.80 L502.00,121.80 L502.50,121.80 L503.00,121.80 L503.50,121.80 L504.00,121.80 L504.50,121.80 L505.00,121.80 L505.50,121.80 L506.00,121.80 L506.50,121.80 L507.00,121.80 L507.50,121.80 L508.00,121.80 L508.50,121.80 L509.00,121.80 L509.50,121.80 L510.00,121.80 L510.50,121.80 L511.00,121.80 L511.50,121.80 L512.00,121.80 L512.50,121.80 L513.00,121.80 L513.50,121.80 L514.00,121.80 L514.50,121.80 L515.00,121.80 L515.50,121.80 L516.00,121.80 L516.50,121.80 L517.00,121.80 L517.50,121.80 L518.00,121.80 L518.50,121.80 L519.00,121.80 L519.50,121.80 L520.00,121.80 L520.50,121.80 L521.00,121.80 L521.50,121.80 L522.00,121.80 L522.50,121.80 L523.00,121.80 L523.50,121.80 L524.00,121.80 L524.50,121.80 L525.00,121.80 L525.50,121.80 L526.00,121.80 L526.50,121.80 L527.00,121.80 L527.50,121.80 L528.00,121.80 L528.50,121.80 L529.00,121.80 L529.50,121.80 L530.00,121.80 L530.50,121.80 L531.00,121.80 L531.50,121.80 L532.00,121.80 L532.50,121.80 L533.00,121.80 L533.50,121.80 L534.00,121.80 L534.50,121.80 L535.00,121.80 L535.50,121.80 L536.00,121.80 L536.50,121.80 L537.00,121.80 L537.50,121.80 L538.00,121.80 L538.50,121.80 L539.00,121.80 L539.50,121.80 L540.00,121.80 L540.50,121.80 L541.00,121.80 L541.50,121.80 L542.00,121.80 L542.50,121.80 L543.00,121.80 L543.50,121.80 L544.00,121.80 L544.50,121.80 L545.00,121.80 L545.50,121.80 L546.00,121.80 L546.50,121.80 L547.00,121.80 L547.50,121.80 L548.00,121.80 L548.50,121.80 L549.00,121.80 L549.50,121.80 L550.00,121.80 L550.50,121.80 L551.00,121.80 L551.50,121.80 L552.00,121.80 L552.50,121.80 L553.00,121.80 L553.50,121.80 L554.00,121.80 L554.50,121.80 L555.00,121.80 L555.50,121.80 L556.00,121.80 L556.50,121.80 L557.00,121.80 L557.50,121.80 L558.00,121.80 L558.50,121.80 L559.00,121.80 L559.50,121.80 L560.00,121.80 L560.50,121.80 L561.00,121.80 L561.50,121.80 L562.00,121.80 L562.50,121.80 L563.00,121.80 L563.50,121.80 L564.00,121.80 L564.50,121.80 L565.00,121.80 L565.50,121.80 L566.00,121.80 L566.50,121.80 L567.00,121.80 L567.50,121.80 L568.00,121.80 L568.50,121.80 L569.00,121.80 L569.50,121.80 L570.00,121.80 L570.50,121.80 L571.00,121.80 L571.50,121.80 L572.00,121.80 L572.50,121.80 L573.00,121.80 L573.50,121.80 L574.00,121.80 L574.50,121.80 L575.00,121.80 L575.50,121.80 L576.00,121.80 L576.50,121.80 L577.00,121.80 L577.50,121.80 L578.00,121.80 L578.50,121.80 L579.00,121.80 L579.50,121.80 L580.00,121.80 L580.50,121.80 L581.00,121.80 L581.50,121.80 L582.00,121.80 L582.50,121.80 L583.00,121.80 L583.50,121.80 L584.00,121.80 L584.50,121.80 L585.00,121.80 L585.50,121.80 L586.00,121.80 L586.50,121.80 L587.00,121.80 L587.50,121.80 L588.00,121.80 L588.50,121.80 L589.00,121.80 L589.50,121.80 L590.00,121.80 L590.50,121.80 L591.00,121.80 L591.50,121.80 L592.00,121.80 L592.50,121.80 L593.00,121.80 L593.50,121.80 L594.00,121.80 L594.50,121.80 L595.00,121.80 L595.50,121.80 L596.00,121.80 L596.50,121.80 L597.00,121.80 L597.50,121.80 L598.00,121.80 L598.50,121.80 L599.00,121.80 L599.50,121.80 L600.00,121.80 L600.50,121.80 L601.00,121.80 L601.50,121.80 L602.00,121.80 L602.50,121.80 L603.00,121.80 L603.50,121.80 L604.00,121.80 L604.50,121.80 L605.00,121.80 L605.50,121.80 L606.00,121.80 L606.50,121.80 L607.00,121.80 L607.50,121.80 L608.00,121.80 L608.50,121.80 L609.00,121.80 L609.50,121.80 L610.00,121.80 L610.50,121.80 L611.00,121.80 L611.50,121.80 L612.00,121.80 L612.50,121.80 L613.00,121.80 L613.50,121.80 L614.00,121.80 L614.50,121.80 L615.00,121.80 L615.50,121.80 L616.00,121.80 L616.50,121.80 L617.00,121.80 L617.50,121.80 L618.00,121.80 L618.50,121.80 L619.00,121.80 L619.50,121.80 L620.00,121.80 L620.50,121.80 L621.00,121.80 L621.50,121.80 L622.00,121.80 L622.50,121.80 L623.00,121.80 L623.50,121.80 L624.00,121.80 L624.50,121.80 L625.00,121.80 L625.50,121.80 L626.00,121.80 L626.50,121.80 L627.00,121.80 L627.50,121.80 L628.00,121.80 L628.50,121.80 L629.00,121.80 L629.50,121.80 L630.00,121.80 L630.50,121.80 L631.00,121.80 L631.50,121.80 L632.00,121.80 L632.50,121.80 L633.00,121.80 L633.50,121.80 L634.00,121.80 L634.50,121.80 L635.00,121.80 L635.50,121.80 L636.00,121.80 L636.50,121.80 L637.00,121.80 L637.50,121.80 L638.00,121.80 L638.50,121.80 L639.00,121.80 L639.50,121.80 L640.00,121.80 L640.50,121.80 L641.00,121.80 L641.50,121.80 L642.00,121.80 L642.50,121.80 L643.00,121.80 L643.50,121.80 L644.00,121.80 L644.50,121.80 L645.00,121.80 L645.50,121.80 L646.00,121.80 L646.50,121.80 L647.00,121.80 L647.50,121.80 L648.00,121.80 L648.50,121.80 L649.00,121.80 L649.50,121.80 L650.00,121.80 L650.50,121.80 L651.00,121.80 L651.50,121.80 L652.00,121.80 L652.50,121.80 L653.00,121.80 L653.50,121.80 L654.00,121.80 L654.50,121.80 L655.00,121.80 L655.50,121.80 L656.00,121.80 L656.50,121.80 L657.00,121.80 L657.50,121.80 L658.00,121.80 L658.50,121.80 L659.00,121.80 L659.50,121.80 L660.00,121.80 L660.50,121.80 L661.00,121.80 L661.50,121.80 L662.00,121.80 L662.50,121.80 L663.00,121.80 L663.50,121.80 L664.00,121.80 L664.50,121.80 L665.00,121.80 L665.50,121.80 L666.00,121.80 L666.50,121.80 L667.00,121.80 L667.50,121.80 L668.00,121.80 L668.50,121.80 L669.00,121.80 L669.50,121.80 L670.00,121.80 L670.50,121.80 L671.00,121.80 L671.50,121.80 L672.00,121.80 L672.50,121.80 L673.00,121.80 L673.50,121.80 L674.00,121.80 L674.50,121.80 L675.00,121.80 L675.50,121.80 L676.00,121.80 L676.50,121.80 L677.00,121.80 L677.50,121.80 L678.00,121.80 L678.50,121.80 L679.00,121.80 L679.50,121.80 L680.00,121.80 L680.50,121.80 L681.00,121.80 L681.50,121.80 L682.00,121.80 L682.50,121.80 L683.00,121.80 L683.50,121.80 L684.00,121.80 L684.50,121.80 L685.00,121.80 L685.50,121.80 L686.00,121.80 L686.50,121.80 L687.00,121.80 L687.50,121.80 L688.00,121.80 L688.50,121.80 L689.00,121.80 L689.50,121.80 L690.00,121.80 L690.50,121.80 L691.00,121.80 L691.50,121.80 L692.00,121.80 L692.50,121.80 L693.00,121.80 L693.50,121.80 L694.00,121.80 L694.50,121.80 L695.00,121.80 L695.50,121.80 L696.00,121.80 L696.50,121.80 L697.00,121.80 L697.50,121.80 L698.00,121.80 L698.50,121.80 L699.00,121.80 L699.50,121.80 L700.00,121.80 L700.50,121.80 L701.00,121.80 L701.50,121.80 L702.00,121.80 L702.50,121.80 L703.00,121.80 L703.50,121.80 L704.00,121.80 L704.50,121.80 L705.00,121.80 L705.50,121.80 L706.00,121.80 L706.50,121.80 L707.00,121.80 L707.50,121.80 L708.00,121.80 L708.50,121.80 L709.00,121.80 L709.50,121.80 L710.00,121.80 L710.50,121.80 L711.00,121.80 L711.50,121.80 L712.00,121.80 L712.50,121.80 L713.00,121.80 L713.50,121.80 L714.00,121.80 L714.50,121.80 L715.00,121.80 L715.50,121.80 L716.00,121.80 L716.50,121.80 L717.00,121.80 L717.50,121.80 L718.00,121.80 L718.50,121.80 L719.00,121.80 L719.50,121.80 L720.00,121.80 L720.50,121.80 L721.00,121.80 L721.50,121.80 L722.00,121.80 L722.50,121.80 L723.00,121.80 L723.50,121.80 L724.00,121.80 L724.50,121.80 L724.76,121.80" stroke="#0000ff"/>
</g>
<g stroke="#666666" stroke-width="1.2" fill="none">
<rect x="98.0" y="35.6" width="639.8" height="575.6999999999999"/>
<path d="M110.60,611.3v-6.2 M110.60,35.6v6.2 M178.84,611.3v-6.2 M178.84,35.6v6.2 M247.08,611.3v-6.2 M247.08,35.6v6.2 M315.32,611.3v-6.2 M315.32,35.6v6.2 M383.56,611.3v-6.2 M383.56,35.6v6.2 M451.80,611.3v-6.2 M451.80,35.6v6.2 M520.04,611.3v-6.2 M520.04,35.6v6.2 M588.28,611.3v-6.2 M588.28,35.6v6.2 M656.52,611.3v-6.2 M656.52,35.6v6.2 M724.76,611.3v-6.2 M724.76,35.6v6.2 M98.0,611.50h6.5 M737.8,611.50h-6.5 M98.0,524.80h5.0 M737.8,524.80h-5.0 M98.0,474.09h5.0 M737.8,474.09h-5.0 M98.0,438.11h5.0 M737.8,438.11h-5.0 M98.0,410.20h6.5 M737.8,410.20h-6.5 M98.0,387.39h5.0 M737.8,387.39h-5.0 M98.0,368.11h5.0 M737.8,368.11h-5.0 M98.0,351.41h5.0 M737.8,351.41h-5.0 M98.0,336.68h5.0 M737.8,336.68h-5.0 M98.0,323.50h6.5 M737.8,323.50h-6.5 M98.0,236.80h5.0 M737.8,236.80h-5.0 M98.0,186.09h5.0 M737.8,186.09h-5.0 M98.0,150.11h5.0 M737.8,150.11h-5.0 M98.0,122.20h6.5 M737.8,122.20h-6.5 M98.0,99.39h5.0 M737.8,99.39h-5.0 M98.0,80.11h5.0 M737.8,80.11h-5.0 M98.0,63.41h5.0 M737.8,63.41h-5.0 M98.0,48.68h5.0 M737.8,48.68h-5.0"/>
</g>
<line x1="543.7" x2="585.1" y1="477.40" y2="477.40" stroke="#000000" stroke-width="4.6"/>
<line x1="543.7" x2="585.1" y1="528.70" y2="528.70" stroke="#ff0000" stroke-width="4.6"/>
<line x1="543.7" x2="585.1" y1="580.00" y2="580.00" stroke="#0000ff" stroke-width="4.6"/>
</svg>
<div class="t " style="right:688.70px;top:602.27px;font-size:21.3px;">0.001</div>
<div class="t " style="right:688.70px;top:400.97px;font-size:21.3px;">0.005</div>
<div class="t " style="right:688.70px;top:314.27px;font-size:21.3px;">0.010</div>
<div class="t " style="right:688.70px;top:112.97px;font-size:21.3px;">0.050</div>
<div class="t " style="left:110.60px;transform:translateX(-50%);top:623.77px;font-size:21.3px;">10<span style="top:-9px;font-size:18.7px"><span style="top:1.5px">−</span>14</span></div>
<div class="t " style="left:315.32px;transform:translateX(-50%);top:623.77px;font-size:21.3px;">10<span style="top:-9px;font-size:18.7px"><span style="top:1.5px">−</span>11</span></div>
<div class="t " style="left:520.04px;transform:translateX(-50%);top:623.77px;font-size:21.3px;">10<span style="top:-9px;font-size:18.7px"><span style="top:1.5px">−</span>8</span></div>
<div class="t " style="left:724.76px;transform:translateX(-50%);top:623.77px;font-size:21.3px;">10<span style="top:-9px;font-size:18.7px"><span style="top:1.5px">−</span>5</span></div>
<div class="t " style="left:57.60px;top:1.42px;font-size:26.08px;">MW cavity<span style="top:5.0px;font-size:24px;margin:0 -0.7px">~</span>ADMX, dichromatic mass function: <span class="i">m</span><span style="top:5.3px;font-size:19.5px">2</span><span class="i" style="margin-left:1.4px;font-weight:normal">/</span><span class="i" style="margin-left:0.6px">m</span><span style="top:5.3px;font-size:19.5px;margin-left:-1px">1</span><span style="margin-left:0.9px;letter-spacing:-1px">=0.01</span></div>
<div class="t " style="left:323.50px;top:659.50px;font-size:21.5px;"><span class="i">m</span><span style="top:6.2px;font-size:18.7px;margin-left:1px">1</span><span style="margin-left:6px"><span class="br">[</span>Solar Masses<span class="br">]</span></span></div>
<div class="t" style="left:20.5px;top:451.5px;font-size:21.5px;transform-origin:0 0;transform:rotate(-90deg) translateY(-18.20px)">Distance sensitivity <span class="br">[</span>kpc<span class="br">]</span></div>
<div class="t lg" style="left:602.00px;top:466.75px;font-size:24.4px;"><span class="i">v</span>=10<span style="top:-10px;font-size:18.5px;margin-left:2.5px">8</span><span style="margin-left:1.6px;letter-spacing:1px"> Hz</span></div>
<div class="t lg" style="left:602.00px;top:518.05px;font-size:24.4px;"><span class="i">v</span>=10<span style="top:-10px;font-size:18.5px;margin-left:2.5px">9</span><span style="margin-left:1.6px;letter-spacing:1px"> Hz</span></div>
<div class="t lg" style="left:602.00px;top:569.35px;font-size:24.4px;"><span class="i">v</span>=10<span style="top:-10px;font-size:18.5px;margin-left:2.5px">10</span><span style="margin-left:2.0px;letter-spacing:1px"> Hz</span></div>
</div></body></html>
